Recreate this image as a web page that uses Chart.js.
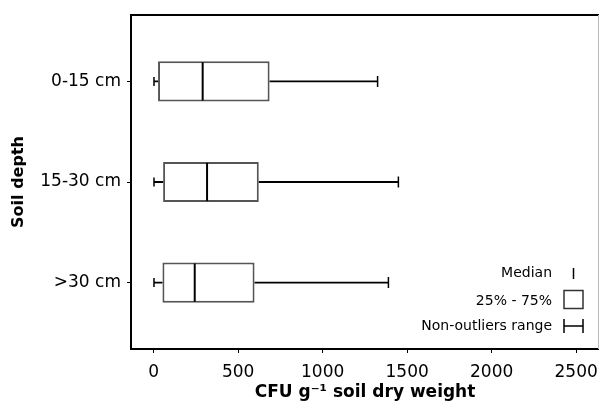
<!DOCTYPE html>
<html>
<head>
<meta charset="utf-8">
<script src="https://cdn.jsdelivr.net/npm/chart.js@4/dist/chart.umd.min.js"></script>
<style>
  html, body { margin: 0; padding: 0; background: #fff; }
  #wrap { width: 599px; height: 401px; }
</style>
</head>
<body>
<div id="wrap"><canvas id="boxChart"></canvas></div>
<script>
// values (CFU g-1 soil dry weight)
const depths = ["0-15 cm", "15-30 cm", ">30 cm"];
const whiskerMin = [2, 2, 2];
const q1 = [26, 56, 52];
const median = [290, 316, 243];
const q3 = [686, 622, 597];
const whiskerMax = [1325, 1448, 1389];
const xTicks = [0, 500, 1000, 1500, 2000, 2500];

const FONT = "'DejaVu Sans', sans-serif";

// median + whiskers, drawn from the arrays through the chart scales
const boxExtras = {
  id: "boxExtras",
  afterDatasetsDraw(chart) {
    const { ctx, scales: { x, y } } = chart;
    const bar = chart.getDatasetMeta(0).data;
    ctx.save();
    depths.forEach((d, i) => {
      const yc = y.getPixelForValue(i);
      const half = bar[i].height / 2;
      const cap = 5.5;
      ctx.strokeStyle = "#000";
      // median
      ctx.lineWidth = 2;
      ctx.beginPath();
      ctx.moveTo(x.getPixelForValue(median[i]), yc - half + 1);
      ctx.lineTo(x.getPixelForValue(median[i]), yc + half - 1);
      ctx.stroke();
      // whiskers
      ctx.lineWidth = 1.8;
      ctx.beginPath();
      ctx.moveTo(x.getPixelForValue(whiskerMin[i]), yc);
      ctx.lineTo(x.getPixelForValue(q1[i]), yc);
      ctx.moveTo(x.getPixelForValue(q3[i]), yc);
      ctx.lineTo(x.getPixelForValue(whiskerMax[i]), yc);
      ctx.stroke();
      ctx.lineWidth = 1.5;
      ctx.beginPath();
      ctx.moveTo(x.getPixelForValue(whiskerMin[i]), yc - cap + 1);
      ctx.lineTo(x.getPixelForValue(whiskerMin[i]), yc + cap - 1);
      ctx.moveTo(x.getPixelForValue(whiskerMax[i]), yc - cap);
      ctx.lineTo(x.getPixelForValue(whiskerMax[i]), yc + cap);
      ctx.stroke();
    });
    ctx.restore();
  }
};

// frame top/right and the little key in the corner
const frameAndKey = {
  id: "frameAndKey",
  afterDraw(chart) {
    const { ctx, chartArea: a } = chart;
    ctx.save();
    ctx.strokeStyle = "#000";
    ctx.lineWidth = 2;
    ctx.beginPath();
    ctx.moveTo(a.left, a.top);
    ctx.lineTo(a.right, a.top);
    ctx.stroke();
    ctx.strokeStyle = "#bbb";
    ctx.lineWidth = 1;
    ctx.beginPath();
    ctx.moveTo(a.right - 0.5, a.top);
    ctx.lineTo(a.right - 0.5, a.bottom);
    ctx.stroke();

    const tx = a.right - 47;
    const sx = a.right - 35;
    const sw = 19;
    ctx.font = "14px " + FONT;
    ctx.fillStyle = "#000";
    ctx.textAlign = "right";
    ctx.textBaseline = "middle";
    ctx.fillText("Median", tx, a.bottom - 76);
    ctx.fillText("25% - 75%", tx, a.bottom - 48);
    ctx.fillText("Non-outliers range", tx, a.bottom - 23);

    ctx.strokeStyle = "#000";
    ctx.lineWidth = 1.5;
    ctx.beginPath();
    ctx.moveTo(sx + sw / 2, a.bottom - 81);
    ctx.lineTo(sx + sw / 2, a.bottom - 70);
    ctx.stroke();
    ctx.strokeStyle = "#333";
    ctx.strokeRect(sx, a.bottom - 58.5, sw, 18);
    ctx.strokeStyle = "#000";
    ctx.beginPath();
    ctx.moveTo(sx, a.bottom - 23);
    ctx.lineTo(sx + sw, a.bottom - 23);
    ctx.moveTo(sx, a.bottom - 30);
    ctx.lineTo(sx, a.bottom - 16);
    ctx.moveTo(sx + sw, a.bottom - 30);
    ctx.lineTo(sx + sw, a.bottom - 16);
    ctx.stroke();
    ctx.restore();
  }
};

new Chart(document.getElementById("boxChart"), {
  type: "bar",
  data: {
    datasets: [{
      label: "25% - 75%",
      data: depths.map((d, i) => ({ x: [q1[i], q3[i]], y: i })),
      backgroundColor: "#fff",
      borderColor: "#555",
      borderWidth: 2,
      borderSkipped: false,
      categoryPercentage: 1,
      barPercentage: 0.4
    }]
  },
  options: {
    indexAxis: "y",
    responsive: true,
    maintainAspectRatio: false,
    animation: false,
    layout: { padding: { top: 15, right: 0, bottom: 0, left: 0 } },
    plugins: { legend: { display: false }, tooltip: { enabled: false } },
    scales: {
      x: {
        type: "linear",
        min: -134,
        max: 2635,
        offset: false,
        afterFit(s) { s.height = 52; s.paddingLeft = 0; s.paddingRight = 0; },
        afterBuildTicks(s) { s.ticks = xTicks.map(v => ({ value: v })); },
        ticks: {
          color: "#000",
          font: { family: FONT, size: 17 },
          padding: 9,
          maxRotation: 0,
          callback: v => String(v)
        },
        grid: { drawOnChartArea: false, offset: false, tickLength: 4, color: "#000", lineWidth: 1 },
        border: { color: "#000", width: 2 },
        title: {
          display: true,
          text: "CFU g\u207B\u00B9 soil dry weight",
          color: "#000",
          font: { family: FONT, size: 17, weight: "bold", lineHeight: 1 },
          padding: { top: 0, bottom: 0 }
        }
      },
      y: {
        type: "linear",
        reverse: true,
        min: -0.66,
        max: 2.66,
        offset: false,
        afterFit(s) { s.width = 131; s.paddingTop = 0; s.paddingBottom = 0; },
        afterBuildTicks(s) { s.ticks = depths.map((d, i) => ({ value: i })); },
        ticks: {
          color: "#000",
          font: { family: FONT, size: 17 },
          padding: 6,
          callback: v => depths[v] ?? ""
        },
        grid: { drawOnChartArea: false, offset: false, tickLength: 4, color: "#000", lineWidth: 1 },
        border: { color: "#000", width: 2 },
        title: {
          display: true,
          text: "Soil depth",
          color: "#000",
          font: { family: FONT, size: 16, weight: "bold", lineHeight: 1 },
          padding: { top: 11, bottom: 0 }
        }
      }
    }
  },
  plugins: [boxExtras, frameAndKey]
});
</script>
</body>
</html>
